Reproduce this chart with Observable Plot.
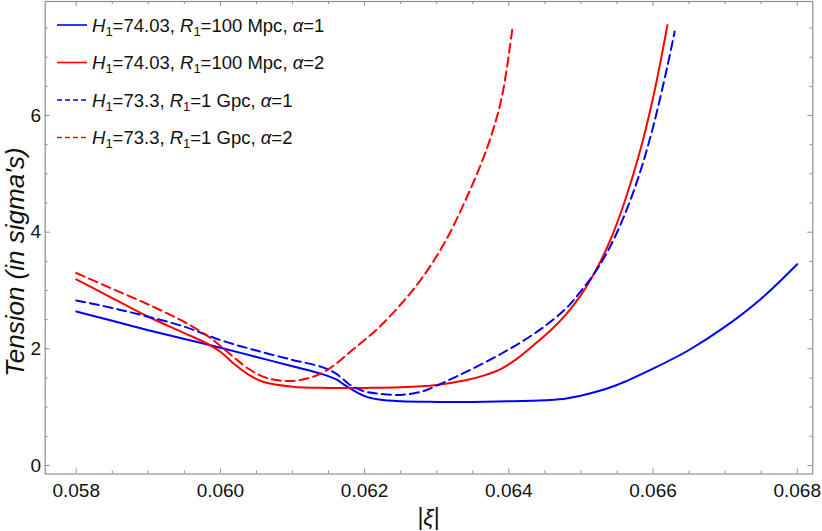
<!DOCTYPE html>
<html>
<head>
<meta charset="utf-8">
<script src="https://cdn.jsdelivr.net/npm/d3@7"></script>
<script src="https://cdn.jsdelivr.net/npm/@observablehq/plot@0.6"></script>
<style>
  html, body { margin: 0; padding: 0; background: #fff; }
  #chart svg { display: block; }
</style>
</head>
<body>
<div id="chart"></div>
<script>
// ---- data ----
const seriesNames = [
  "H1=74.03, R1=100 Mpc, α=1",
  "H1=74.03, R1=100 Mpc, α=2",
  "H1=73.3, R1=1 Gpc, α=1",
  "H1=73.3, R1=1 Gpc, α=2"
];
const seriesColors = ["#0000ff", "#ff0000", "#0000ff", "#ff0000"];
const seriesDashed = [false, false, true, true];

// H1=74.03, R1=100 Mpc, alpha=1 (blue solid)
const xiA = [0.0580,0.0585,0.0590,0.0595,0.0600,0.0605,0.0610,0.0614,0.0616,0.0617,0.0618,0.0620,0.0622,0.0625,0.0630,0.0635,0.0640,0.0645,0.0648,0.0652,0.0655,0.0660,0.0665,0.0670,0.0675,0.0680];
const tA  = [2.64,2.48,2.32,2.17,2.02,1.86,1.70,1.57,1.48,1.40,1.32,1.19,1.13,1.10,1.09,1.09,1.10,1.12,1.15,1.26,1.38,1.66,1.98,2.38,2.86,3.45];

// H1=74.03, R1=100 Mpc, alpha=2 (red solid)
const xiB = [0.0580,0.0585,0.0590,0.0595,0.0598,0.0600,0.0602,0.0604,0.0606,0.0610,0.0615,0.0620,0.0625,0.0630,0.0634,0.06365,0.0639,0.0641,0.06435,0.0646,0.0648,0.0650,0.0652,0.0654,0.0656,0.0658,0.0660,0.0662];
const tB  = [3.19,2.87,2.55,2.27,2.10,1.95,1.73,1.55,1.43,1.35,1.33,1.33,1.34,1.38,1.46,1.54,1.66,1.82,2.07,2.34,2.60,2.92,3.33,3.84,4.50,5.30,6.30,7.55];

// H1=73.3, R1=1 Gpc, alpha=1 (blue dashed)
const xiC = [0.0580,0.0585,0.0590,0.0595,0.0600,0.0605,0.0610,0.0614,0.0616,0.0618,0.0620,0.0622,0.0625,0.0628,0.0630,0.0634,0.0639,0.0644,0.0648,0.0650,0.0652,0.0654,0.0656,0.0658,0.0660,0.0662,0.0663];
const tC  = [2.83,2.70,2.55,2.38,2.15,1.97,1.81,1.69,1.58,1.38,1.27,1.23,1.21,1.27,1.37,1.60,1.92,2.30,2.70,2.99,3.32,3.74,4.28,4.95,5.80,6.85,7.44];

// H1=73.3, R1=1 Gpc, alpha=2 (red dashed)
const xiD = [0.0580,0.0585,0.0590,0.0595,0.0598,0.0600,0.0602,0.0604,0.0606,0.0608,0.0610,0.0612,0.0614,0.0616,0.0618,0.0620,0.0622,0.0625,0.0628,0.0631,0.0634,0.0637,0.0639,0.06405];
const tD  = [3.30,3.03,2.76,2.46,2.24,2.05,1.84,1.65,1.52,1.46,1.45,1.49,1.58,1.74,1.95,2.15,2.37,2.76,3.22,3.80,4.55,5.45,6.30,7.50];

const xMajorTicks = [0.058, 0.060, 0.062, 0.064, 0.066, 0.068];
const xMinorTicks = [0.0585,0.0590,0.0595,0.0605,0.0610,0.0615,0.0625,0.0630,0.0635,0.0645,0.0650,0.0655,0.0665,0.0670,0.0675];
const yMajorTicks = [0, 2, 4, 6];
const yMinorTicks = [0.5,1,1.5,2.5,3,3.5,4.5,5,5.5,6.5,7,7.5];

const yLabel = "Tension (in sigma's)";

// ---- build table ----
const allXi = [xiA, xiB, xiC, xiD];
const allT = [tA, tB, tC, tD];
const rows = [];
allXi.forEach((xs, s) => xs.forEach((x, i) => rows.push({series: s, xi: x, t: allT[s][i]})));

// ---- layout ----
const W = 822, H = 531;
const mL = 44.7, mR = 9.7, mT = 1, mB = 57.5;
const innerW = W - mL - mR, innerH = H - mT - mB;
const frameColor = "#8f8f8f";
const majLen = 5, minLen = 3;

const lineMarks = [0,1,2,3].map(s => Plot.line(rows.filter(d => d.series === s), {
  x: "xi", y: "t",
  stroke: seriesColors[s],
  strokeWidth: 2,
  strokeDasharray: seriesDashed[s] ? "9,5" : null,
  curve: "catmull-rom"
}));

const chart = Plot.plot({
  width: W, height: H,
  marginLeft: mL, marginRight: mR, marginTop: mT, marginBottom: mB,
  style: {fontFamily: "'Liberation Sans', Arial, sans-serif", fontSize: "19px", color: "#111", background: "#fff"},
  x: {domain: [0.05757, 0.068216]},
  y: {domain: [-0.146, 7.955]},
  marks: [
    // inward ticks on all four sides
    Plot.ruleX(xMajorTicks, {insetTop: innerH - majLen, stroke: frameColor}),
    Plot.ruleX(xMajorTicks, {insetBottom: innerH - majLen, stroke: frameColor}),
    Plot.ruleX(xMinorTicks, {insetTop: innerH - minLen, stroke: frameColor}),
    Plot.ruleX(xMinorTicks, {insetBottom: innerH - minLen, stroke: frameColor}),
    Plot.ruleY(yMajorTicks, {insetRight: innerW - majLen, stroke: frameColor}),
    Plot.ruleY(yMajorTicks, {insetLeft: innerW - majLen, stroke: frameColor}),
    Plot.ruleY(yMinorTicks, {insetRight: innerW - minLen, stroke: frameColor}),
    Plot.ruleY(yMinorTicks, {insetLeft: innerW - minLen, stroke: frameColor}),
    Plot.axisX(xMajorTicks, {tickSize: 0, tickPadding: 9, tickFormat: d => d.toFixed(3), label: null, fill: "#111"}),
    Plot.axisY(yMajorTicks, {tickSize: 0, tickPadding: 4, tickFormat: d => String(d), label: null, fill: "#111"}),
    ...lineMarks,
    Plot.frame({stroke: frameColor, strokeWidth: 1.2})
  ]
});

document.getElementById("chart").appendChild(chart);

// ---- axis titles and legend ----
const svg = d3.select(chart);
const ff = "'Liberation Sans', Arial, sans-serif";

const xl = svg.append("text")
  .attr("x", mL + innerW / 2).attr("y", 525)
  .attr("text-anchor", "middle")
  .attr("font-family", ff).attr("font-size", 23).attr("fill", "#111");
xl.append("tspan").text("|");
xl.append("tspan").attr("font-style", "italic").text("ξ");
xl.append("tspan").text("|");

svg.append("text")
  .attr("transform", `translate(24, 262) rotate(-90)`)
  .attr("text-anchor", "middle")
  .attr("font-family", ff).attr("font-size", 26).attr("font-style", "italic").attr("fill", "#111")
  .text(yLabel);

// legend
const legendRowsY = [25, 62.5, 100, 137.5];
seriesNames.forEach((name, i) => {
  const cy = legendRowsY[i];
  svg.append("line")
    .attr("x1", 57).attr("x2", 87).attr("y1", cy).attr("y2", cy)
    .attr("stroke", seriesColors[i]).attr("stroke-width", 1.6)
    .attr("stroke-dasharray", seriesDashed[i] ? "5,3" : null);
  const t = svg.append("text")
    .attr("x", 92).attr("y", cy + 6.5)
    .attr("text-anchor", "start")
    .attr("font-family", ff).attr("font-size", 18.5).attr("fill", "#111");
  const parts = name.split(", ");
  parts.forEach((p, k) => {
    const [lhs, rhs] = p.split("=");
    const letter = lhs[0];
    const sub = lhs.slice(1);
    t.append("tspan").attr("font-style", "italic").text(letter);
    if (sub) {
      t.append("tspan").attr("font-size", 13).attr("dy", 4).text(sub);
      t.append("tspan").attr("dy", -4).text("=" + rhs);
    } else {
      t.append("tspan").text("=" + rhs);
    }
    if (k < parts.length - 1) t.append("tspan").text(", ");
  });
});
</script>
</body>
</html>
